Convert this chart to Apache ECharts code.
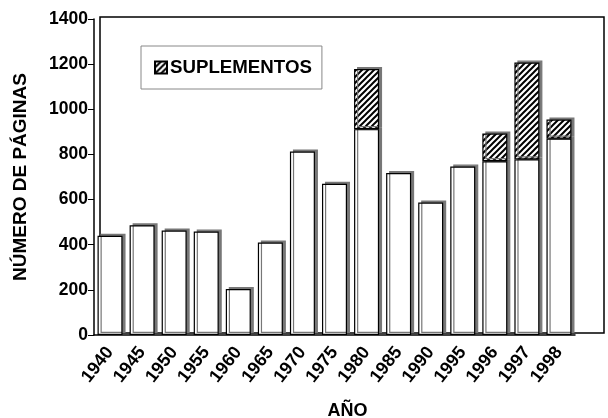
<!DOCTYPE html>
<html lang="es">
<head>
    <meta charset="UTF-8">
    <title>Número de páginas</title>
    <script src="https://cdn.jsdelivr.net/npm/echarts@6/dist/echarts.min.js"></script>
    <style>
        html, body { margin: 0; padding: 0; background: #fff; }
        #chart { width: 608px; height: 418px; }
    </style>
</head>
<body>
<div id="chart"></div>
<script type="text/javascript">
    // datos
    var anos = ['1940','1945','1950','1955','1960','1965','1970','1975','1980','1985','1990','1995','1996','1997','1998'];
    var paginas = [440, 486, 463, 458, 204, 410, 813, 670, 912, 718, 587, 746, 770, 778, 870];
    var suplementos = [0, 0, 0, 0, 0, 0, 0, 0, 266, 0, 0, 0, 123, 429, 85];
    var yTicks = [0, 200, 400, 600, 800, 1000, 1200, 1400];

    var FONT = 'Liberation Sans, Arial, sans-serif';

    // patron rayado para los suplementos
    function hatch() {
        var c = document.createElement('canvas');
        c.width = 6; c.height = 6;
        var g = c.getContext('2d');
        g.fillStyle = '#fff';
        g.fillRect(0, 0, 6, 6);
        g.strokeStyle = '#000';
        g.lineWidth = 2;
        g.beginPath();
        g.moveTo(0, 6); g.lineTo(6, 0);
        g.moveTo(-3, 3); g.lineTo(3, -3);
        g.moveTo(3, 9); g.lineTo(9, 3);
        g.stroke();
        return c;
    }
    var rayado = { image: hatch(), repeat: 'repeat' };

    var sombra = { shadowColor: '#777', shadowOffsetX: 3, shadowOffsetY: -2, shadowBlur: 0 };

    var option = {
        animation: false,
        backgroundColor: '#fff',
        textStyle: { fontFamily: FONT },
        legend: {
            data: ['SUPLEMENTOS'],
            left: 141, top: 46,
            padding: [12, 10, 12, 13],
            backgroundColor: '#fff',
            borderColor: '#888',
            borderWidth: 1,
            itemWidth: 12, itemHeight: 12,
            icon: 'rect',
            itemGap: 4,
            selectedMode: false,
            textStyle: { fontFamily: FONT, fontWeight: 'bold', fontSize: 18.7, color: '#000', padding: [0, 0, 0, -2] }
        },
        grid: [
            { left: 94, right: 33, top: 19, bottom: 83, outerBoundsMode: 'none', containLabel: false },
            { left: 100, right: 4, top: 17, bottom: 85, outerBoundsMode: 'none', show: true, borderColor: '#000', borderWidth: 1.5, z: 0 }
        ],
        xAxis: [
            {
                type: 'category',
                gridIndex: 0,
                data: anos,
                name: 'AÑO',
                nameLocation: 'middle',
                nameGap: 67,
                nameTextStyle: { fontFamily: FONT, fontWeight: 'bold', fontSize: 18, color: '#000', padding: [0, 0, 0, 26] },
                axisLine: { lineStyle: { color: '#000', width: 1.5 } },
                axisTick: { length: 6, lineStyle: { color: '#000' } },
                axisLabel: { interval: 0, rotate: 52, margin: 14, fontFamily: FONT, fontWeight: 'bold', fontSize: 18, color: '#000' }
            },
            { type: 'value', gridIndex: 1, show: false }
        ],
        yAxis: [
            {
                type: 'value',
                gridIndex: 0,
                min: yTicks[0],
                max: yTicks[yTicks.length - 1],
                interval: 200,
                name: 'NÚMERO DE PÁGINAS',
                nameLocation: 'middle',
                nameGap: 64,
                nameTextStyle: { fontFamily: FONT, fontWeight: 'bold', fontSize: 19, color: '#000' },
                axisLine: { show: true, lineStyle: { color: '#000', width: 1.5 } },
                axisTick: { show: true, length: 6, lineStyle: { color: '#000' } },
                axisLabel: {
                    margin: 6, fontFamily: FONT, fontWeight: 'bold', fontSize: 17.5, color: '#000',
                    formatter: function (v) { return String(v); }
                },
                splitLine: { show: false }
            },
            { type: 'value', gridIndex: 1, show: false }
        ],
        series: [
            {
                name: 'PÁGINAS',
                type: 'bar',
                stack: 'total',
                barCategoryGap: '22%',
                data: paginas,
                itemStyle: Object.assign({ color: '#fff', borderColor: '#000', borderWidth: 1.2 }, sombra)
            },
            {
                name: 'SUPLEMENTOS',
                type: 'bar',
                stack: 'total',
                data: suplementos.map(function (v) { return v || null; }),
                itemStyle: Object.assign({ color: rayado, borderColor: '#000', borderWidth: 1.2 }, sombra)
            }
        ]
    };

    var myChart = echarts.init(document.getElementById('chart'), null, { renderer: 'canvas' });
    myChart.setOption(option);
</script>
</body>
</html>
